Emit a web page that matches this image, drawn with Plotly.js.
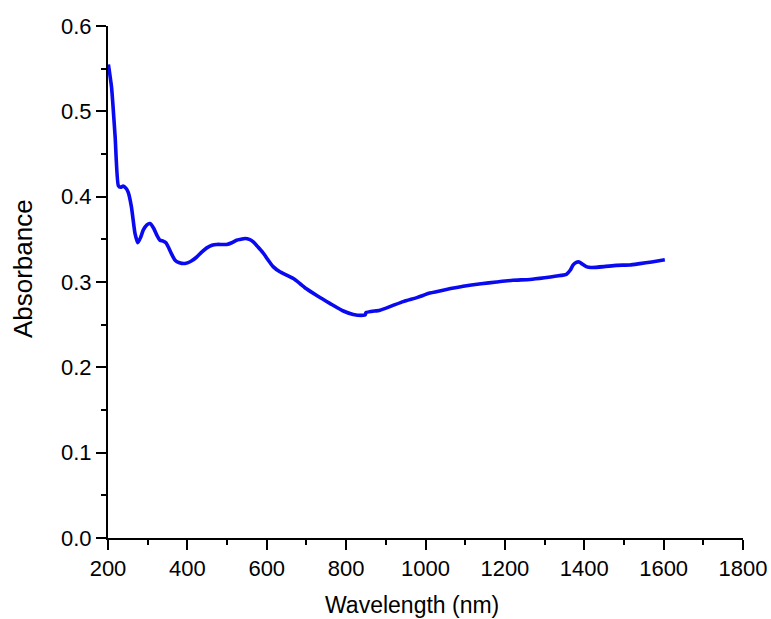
<!DOCTYPE html>
<html>
<head>
<meta charset="utf-8">
<script src="https://cdn.plot.ly/plotly-3.0.1.min.js"></script>
<style>html,body{margin:0;padding:0;background:#fff;}#chart{width:771px;height:619px;}</style>
</head>
<body>
<div id="chart"></div>
<script>
const wavelength = [201,209,218,226,232,238,245,251,259,268,275,282,289,298,306,315,323,331,339,346,352,360,369,380,394,408,423,436,449,462,474,487,499,512,524,535,545,556,566,578,591,603,616,633,650,667,684,700,730,759,793,818,843,848,850,885,915,944,980,1011,1050,1095,1140,1179,1220,1263,1300,1330,1355,1365,1372,1380,1387,1395,1405,1418,1450,1481,1515,1540,1570,1603];
const absorbance = [0.555,0.528,0.470,0.413,0.411,0.4125,0.410,0.405,0.388,0.357,0.346,0.352,0.361,0.367,0.3685,0.363,0.355,0.349,0.348,0.346,0.341,0.333,0.3255,0.3225,0.3217,0.324,0.329,0.335,0.340,0.343,0.344,0.344,0.344,0.346,0.349,0.350,0.351,0.350,0.347,0.341,0.334,0.326,0.318,0.312,0.308,0.304,0.298,0.292,0.283,0.275,0.266,0.262,0.261,0.2615,0.264,0.267,0.272,0.277,0.282,0.287,0.291,0.295,0.298,0.300,0.302,0.303,0.305,0.307,0.309,0.314,0.320,0.323,0.3235,0.321,0.318,0.317,0.318,0.3195,0.320,0.3215,0.3235,0.326];
const xTicks = [200,400,600,800,1000,1200,1400,1600,1800];
const yTicks = [0.0,0.1,0.2,0.3,0.4,0.5,0.6];
const xTitle = 'Wavelength (nm)';
const yTitle = 'Absorbance';

const font = "Liberation Sans, Arial, sans-serif";
const trace = {
  x: wavelength, y: absorbance, type: 'scatter', mode: 'lines',
  line: {color: '#0a0af0', width: 3.6, shape: 'spline', smoothing: 0.5},
  hoverinfo: 'skip'
};
const layout = {
  width: 771, height: 619,
  margin: {l: 108, r: 28, t: 26, b: 81},
  paper_bgcolor: '#fff', plot_bgcolor: '#fff',
  showlegend: false,
  font: {family: font, color: '#000'},
  xaxis: {
    range: [200, 1800], tickvals: xTicks, ticktext: xTicks.map(String),
    showgrid: false, zeroline: false, showline: true, linecolor: '#000', linewidth: 2,
    ticks: 'outside', ticklen: 10, tickwidth: 2, tickcolor: '#000',
    tickfont: {size: 22, family: font, color: '#000'},
    minor: {dtick: 100, tick0: 200, ticks: 'outside', ticklen: 5, tickwidth: 2, tickcolor: '#000', showgrid: false}
  },
  yaxis: {
    range: [0, 0.6], tickvals: yTicks, ticktext: yTicks.map(v => v.toFixed(1)),
    showgrid: false, zeroline: false, showline: true, linecolor: '#000', linewidth: 2,
    ticks: 'outside', ticklen: 10, tickwidth: 2, tickcolor: '#000',
    tickfont: {size: 22, family: font, color: '#000'},
    minor: {dtick: 0.05, tick0: 0, ticks: 'outside', ticklen: 5, tickwidth: 2, tickcolor: '#000', showgrid: false}
  },
  annotations: [
    {text: xTitle, xref: 'paper', yref: 'paper', x: 0.479, y: -0.131, xanchor: 'center', yanchor: 'middle',
     showarrow: false, font: {size: 23, family: font, color: '#000'}},
    {text: yTitle, xref: 'paper', yref: 'paper', x: -0.134, y: 0.527, xanchor: 'center', yanchor: 'middle',
     textangle: -90, showarrow: false, font: {size: 26, family: font, color: '#000'}}
  ]
};
Plotly.newPlot('chart', [trace], layout, {displayModeBar: false, staticPlot: true});
</script>
</body>
</html>
